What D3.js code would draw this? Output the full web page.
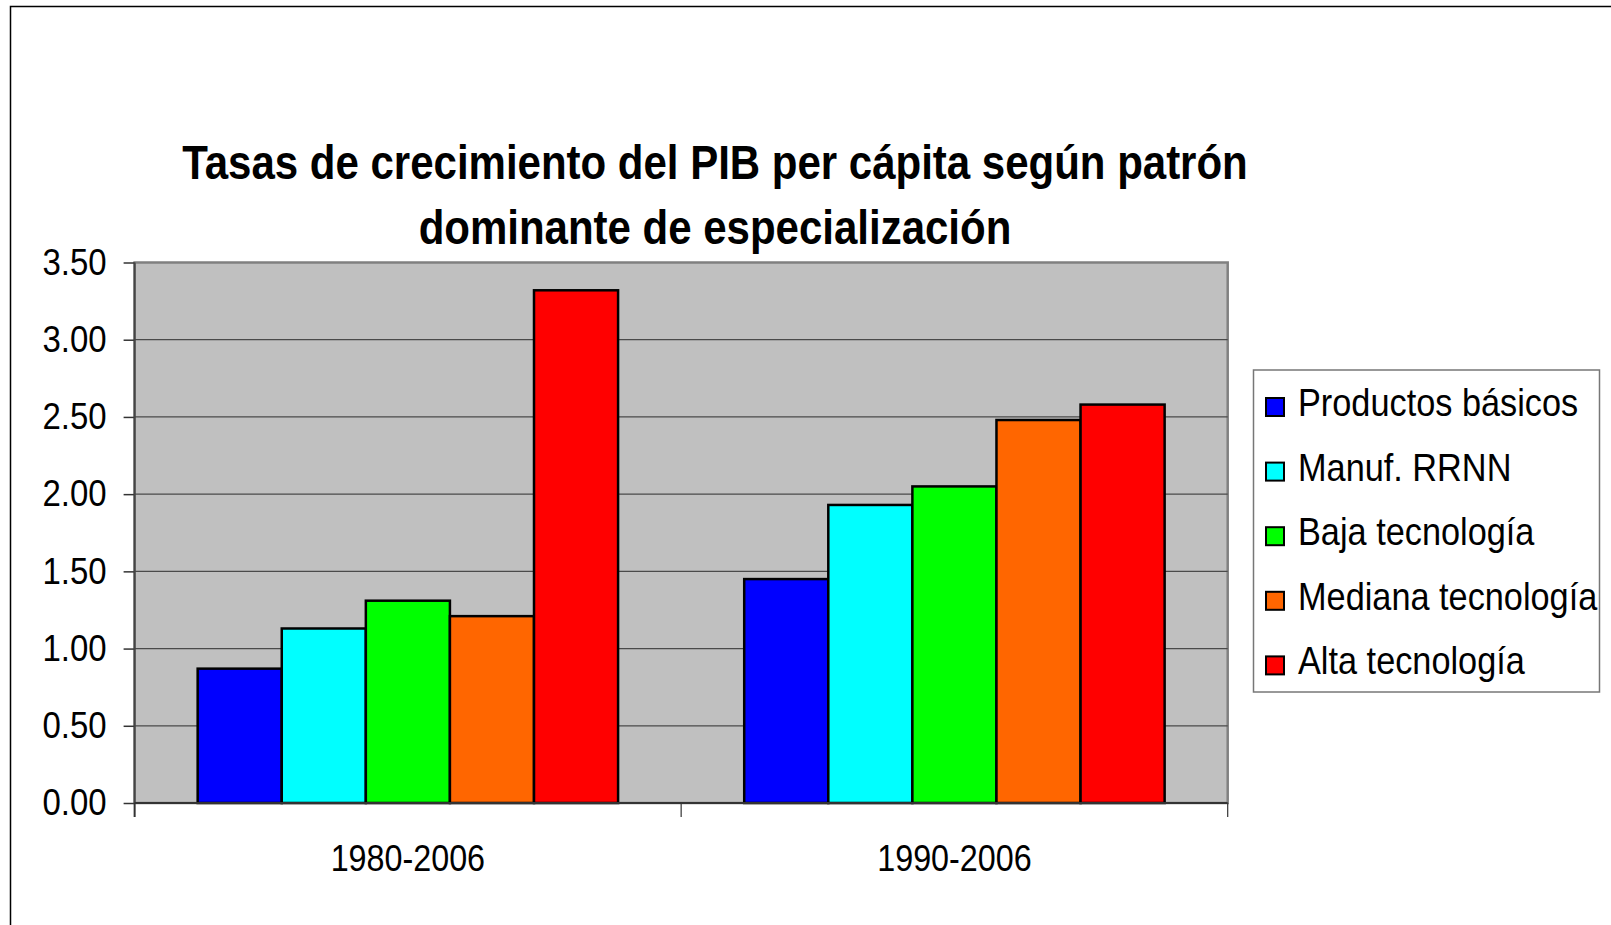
<!DOCTYPE html>
<html>
<head>
<meta charset="utf-8">
<script src="https://cdn.jsdelivr.net/npm/d3@7"></script>
<style>
body { margin: 0; background: #fff; }
text { font-family: "Liberation Sans", Arial, sans-serif; }
</style>
</head>
<body>
<div id="chart"></div>
<script>
var periods = ["1980-2006", "1990-2006"];
var series = ["Productos básicos", "Manuf. RRNN", "Baja tecnología", "Mediana tecnología", "Alta tecnología"];
var colors = ["#0000ff", "#00ffff", "#00ff00", "#ff6600", "#ff0000"];
var values1980 = [0.87, 1.13, 1.31, 1.21, 3.32];
var values1990 = [1.45, 1.93, 2.05, 2.48, 2.58];
var yTicks = [0, 0.5, 1, 1.5, 2, 2.5, 3, 3.5];
var titleLines = ["Tasas de crecimiento del PIB per cápita según patrón", "dominante de especialización"];

var width = 1611, height = 925;
var plot = {left: 134.6, right: 1227.7, top: 262.5, bottom: 803};

// flatten into one row per bar
var data = [];
periods.forEach(function (p, i) {
    var vals = i == 0 ? values1980 : values1990;
    series.forEach(function (s, j) {
        data.push({period: p, series: s, value: vals[j], color: colors[j]});
    });
});

var svg = d3.select("#chart").append("svg")
    .attr("width", width)
    .attr("height", height);

// outer chart border (runs off the right and bottom of the picture)
svg.append("rect")
    .attr("x", 10.5)
    .attr("y", 6.5)
    .attr("width", width)
    .attr("height", height)
    .attr("fill", "none")
    .attr("stroke", "#000")
    .attr("stroke-width", 1.5);

// scales
var x0 = d3.scaleBand().domain(periods).range([plot.left, plot.right]);
var x1 = d3.scaleBand().domain(series).range([0, x0.bandwidth()])
    .paddingInner(0).paddingOuter(0.75);
var y = d3.scaleLinear().domain([0, 3.5]).range([plot.bottom, plot.top]);

// plot area
svg.append("rect")
    .attr("x", plot.left)
    .attr("y", plot.top)
    .attr("width", plot.right - plot.left)
    .attr("height", plot.bottom - plot.top)
    .attr("fill", "#c0c0c0")
    .attr("stroke", "#808080")
    .attr("stroke-width", 2.5);

// gridlines
svg.selectAll(".grid")
    .data(yTicks.slice(1, -1))
    .enter().append("line")
    .attr("class", "grid")
    .attr("x1", plot.left)
    .attr("x2", plot.right)
    .attr("y1", function (d) { return y(d); })
    .attr("y2", function (d) { return y(d); })
    .attr("stroke", "#4a4a4a")
    .attr("stroke-width", 1.2);

// bars
svg.selectAll(".bar")
    .data(data)
    .enter().append("rect")
    .attr("class", "bar")
    .attr("x", function (d) { return x0(d.period) + x1(d.series); })
    .attr("y", function (d) { return y(d.value); })
    .attr("width", x1.bandwidth())
    .attr("height", function (d) { return y(0) - y(d.value); })
    .attr("fill", function (d) { return d.color; })
    .attr("stroke", "#000")
    .attr("stroke-width", 2.5);

// y axis
var yAxis = svg.append("g")
    .attr("transform", "translate(" + plot.left + ",0)")
    .call(d3.axisLeft(y).tickValues(yTicks).tickFormat(d3.format(".2f"))
        .tickSizeInner(11).tickSizeOuter(0).tickPadding(17));
yAxis.select(".domain").remove();
yAxis.selectAll(".tick line").attr("stroke", "#333").attr("stroke-width", 1.5);
yAxis.selectAll(".tick text")
    .attr("font-size", 33)
    .attr("fill", "#000")
    .attr("font-family", "Liberation Sans, Arial, sans-serif")
    .attr("transform", "scale(1,1.12)");

svg.append("line")
    .attr("x1", plot.left).attr("x2", plot.left)
    .attr("y1", plot.top).attr("y2", plot.bottom + 14)
    .attr("stroke", "#444").attr("stroke-width", 2);

// x axis
var xAxis = svg.append("g")
    .attr("transform", "translate(0," + plot.bottom + ")")
    .call(d3.axisBottom(x0).tickSize(0));
xAxis.select(".domain").remove();
xAxis.selectAll(".tick text")
    .attr("y", 0)
    .attr("dy", 0)
    .attr("font-size", 32.3)
    .attr("fill", "#000")
    .attr("font-family", "Liberation Sans, Arial, sans-serif")
    .attr("transform", "translate(0,68) scale(1,1.14)");

svg.append("line")
    .attr("x1", plot.left).attr("x2", plot.right)
    .attr("y1", y(0)).attr("y2", y(0))
    .attr("stroke", "#333").attr("stroke-width", 2);

// category separators below the axis
svg.selectAll(".sep")
    .data(periods.map(function (p) { return x0(p); }).concat([plot.right]))
    .enter().append("line")
    .attr("class", "sep")
    .attr("x1", function (d) { return d; })
    .attr("x2", function (d) { return d; })
    .attr("y1", y(0))
    .attr("y2", y(0) + 14)
    .attr("stroke", "#333")
    .attr("stroke-width", 1.2);

// title
svg.selectAll(".title")
    .data(titleLines)
    .enter().append("text")
    .attr("class", "title")
    .attr("transform", function (d, i) { return "translate(715," + (179 + i * 65) + ") scale(1,1.16)"; })
    .attr("text-anchor", "middle")
    .attr("font-size", 42)
    .attr("font-weight", "bold")
    .text(function (d) { return d; });

// legend
var legend = svg.append("g");
legend.append("rect")
    .attr("x", 1253.5)
    .attr("y", 370)
    .attr("width", 346)
    .attr("height", 322)
    .attr("fill", "#fff")
    .attr("stroke", "#777")
    .attr("stroke-width", 1.5);

var items = legend.selectAll(".item")
    .data(series)
    .enter().append("g")
    .attr("class", "item")
    .attr("transform", function (d, i) { return "translate(0," + (i * 64.6) + ")"; });

items.append("rect")
    .attr("x", 1266)
    .attr("y", 398)
    .attr("width", 18)
    .attr("height", 18)
    .attr("fill", function (d, i) { return colors[i]; })
    .attr("stroke", "#000")
    .attr("stroke-width", 2);

items.append("text")
    .attr("transform", "translate(1298,416) scale(1,1.14)")
    .attr("font-size", 34.3)
    .text(function (d) { return d; });
</script>
</body>
</html>
